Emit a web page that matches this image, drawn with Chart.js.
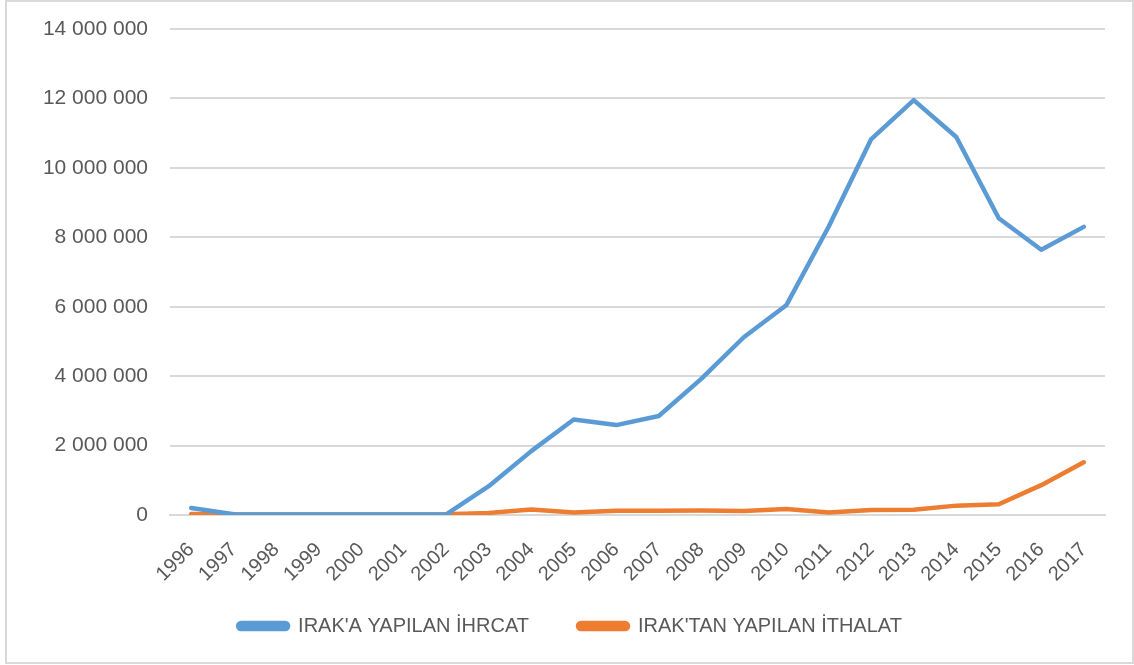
<!DOCTYPE html>
<html lang="tr">
<head>
<meta charset="UTF-8">
<title>Irak ihracat / ithalat</title>
<script src="https://cdn.jsdelivr.net/npm/chart.js"></script>
<style>
    html, body { margin: 0; padding: 0; background: #fff; }
    #wrap { position: relative; width: 1134px; height: 665px; }
    #frame {
        position: absolute; left: 5px; top: 0; width: 1129px; height: 664px;
        border: 2px solid #d9d9d9; box-sizing: border-box; pointer-events: none;
    }
    canvas { position: absolute; left: 0; top: 0; }
</style>
</head>
<body>
<div id="wrap">
    <canvas id="chart" width="1134" height="665"></canvas>
    <div id="frame"></div>
</div>

<script>
    // years on the x axis
    const years = ['1996', '1997', '1998', '1999', '2000', '2001', '2002', '2003', '2004', '2005', '2006',
        '2007', '2008', '2009', '2010', '2011', '2012', '2013', '2014', '2015', '2016', '2017'];

    // Irak'a yapilan ihracat
    const exports = [200000, 20000, 15000, 15000, 15000, 15000, 20000, 830000, 1840000, 2750000, 2590000,
        2850000, 3920000, 5120000, 6040000, 8310000, 10830000, 11950000, 10890000, 8550000, 7640000, 8300000];

    // Irak'tan yapilan ithalat
    const imports = [30000, 15000, 15000, 15000, 15000, 15000, 20000, 60000, 160000, 70000, 125000,
        125000, 130000, 115000, 170000, 70000, 145000, 150000, 270000, 310000, 860000, 1520000];

    const seriesNames = ["IRAK'A YAPILAN İHRCAT", "IRAK'TAN YAPILAN İTHALAT"];

    const textColor = '#595959';
    const fontFamily = '"Liberation Sans", Arial, sans-serif';

    function fmt(v) {
        return String(v).replace(/\B(?=(\d{3})+(?!\d))/g, ' ');
    }

    // legend items need a wide gap between them but not the same gap above/below:
    // keep the legend box short, then pull it up a bit once the layout is done
    const legendTweak = {
        id: 'legendTweak',
        beforeLayout(chart) {
            const lg = chart.legend;
            if (lg && !lg._shortened) {
                const fit = lg.fit;
                lg.fit = function () {
                    fit.call(this);
                    this.height = 80;
                };
                lg._shortened = true;
            }
        },
        afterLayout(chart) {
            const lg = chart.legend;
            if (lg) {
                lg.top -= 18;
                lg.bottom -= 18;
            }
        }
    };

    new Chart(document.getElementById('chart'), {
        type: 'line',
        data: {
            labels: years,
            datasets: [
                {
                    label: seriesNames[0],
                    data: exports,
                    borderColor: '#5b9bd5',
                    backgroundColor: '#5b9bd5',
                    borderWidth: 4.5,
                    pointRadius: 0,
                    tension: 0,
                    borderCapStyle: 'round',
                    borderJoinStyle: 'round'
                },
                {
                    label: seriesNames[1],
                    data: imports,
                    borderColor: '#ed7d31',
                    backgroundColor: '#ed7d31',
                    borderWidth: 4.5,
                    pointRadius: 0,
                    tension: 0,
                    borderCapStyle: 'round',
                    borderJoinStyle: 'round'
                }
            ]
        },
        options: {
            responsive: false,
            animation: false,
            layout: { padding: { left: 35, right: 29, top: 29, bottom: 0 } },
            plugins: {
                tooltip: { enabled: false },
                legend: {
                    position: 'bottom',
                    labels: {
                        color: textColor,
                        font: { family: fontFamily, size: 20 },
                        boxWidth: 50,
                        boxHeight: 6,
                        useBorderRadius: true,
                        borderRadius: 3,
                        padding: 49
                    }
                }
            },
            scales: {
                x: {
                    offset: true,
                    grid: { display: false },
                    border: { display: true, color: '#d9d9d9', width: 2 },
                    ticks: {
                        color: textColor,
                        font: { family: fontFamily, size: 20 },
                        minRotation: 45,
                        maxRotation: 45,
                        autoSkip: false,
                        padding: 15
                    },
                    afterFit(scale) { scale.height = 70; }
                },
                y: {
                    min: 0,
                    max: 14000000,
                    ticks: {
                        stepSize: 2000000,
                        color: textColor,
                        // small lineHeight so the top label does not push the plot down
                        font: { family: fontFamily, size: 21, lineHeight: 0.6 },
                        padding: 22,
                        callback: v => fmt(v)
                    },
                    grid: { color: '#d9d9d9', lineWidth: 2, drawTicks: false },
                    border: { display: false },
                    afterFit(scale) { scale.width = 135; }
                }
            }
        },
        plugins: [legendTweak]
    });
</script>
</body>
</html>
